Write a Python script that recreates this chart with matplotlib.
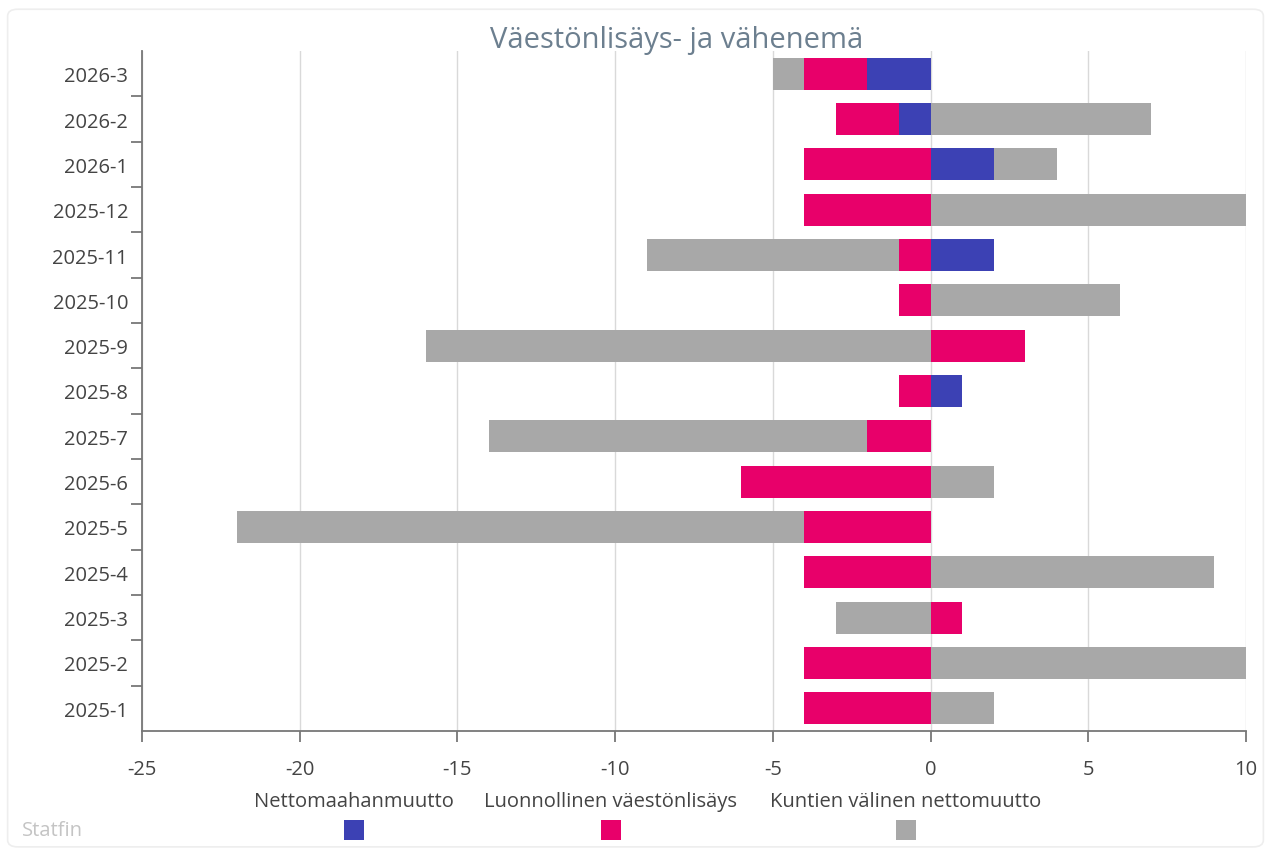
import numpy as np
import matplotlib.pyplot as plt
from matplotlib.patches import FancyBboxPatch, Rectangle

plt.rcParams['font.family'] = ['Open Sans', 'DejaVu Sans']
plt.rcParams['axes.unicode_minus'] = False

# data, top row first as in the picture
months = ['2026-3', '2026-2', '2026-1', '2025-12', '2025-11', '2025-10', '2025-9',
          '2025-8', '2025-7', '2025-6', '2025-5', '2025-4', '2025-3', '2025-2', '2025-1']
netto_maahan = [-2, -1, 2, 0, 2, 0, 0, 1, 0, 0, 0, 0, 0, 0, 0]
luonnollinen = [-2, -2, -4, -4, -1, -1, 3, -1, -2, -6, -4, -4, 1, -4, -4]
kuntien = [-1, 7, 2, 10, -8, 6, -16, 0, -12, 2, -18, 9, -3, 10, 2]

series = [('Nettomaahanmuutto', netto_maahan, '#3c41b4'),
          ('Luonnollinen väestönlisäys', luonnollinen, '#e8006a'),
          ('Kuntien välinen nettomuutto', kuntien, '#a8a8a8')]

fig = plt.figure(figsize=(12.71, 8.53), dpi=100)
card = FancyBboxPatch((0.006, 0.006), 0.988, 0.982, boxstyle='round,pad=0,rounding_size=0.008',
                      transform=fig.transFigure, fc='none', ec='#eeeeee', lw=1.2, zorder=-1)
fig.patches.append(card)
ax = fig.add_axes([0.1117, 0.1419, 0.8686, 0.7971])

# stacked like highcharts: positives and negatives stack separately from zero
y = np.arange(len(months))
pos = np.zeros(len(months))
neg = np.zeros(len(months))
for name, vals, col in series:
    v = np.array(vals, dtype=float)
    left = np.where(v >= 0, pos, neg)
    ax.barh(y, v, left=left, height=0.7, color=col, zorder=3)
    pos = pos + np.where(v > 0, v, 0)
    neg = neg + np.where(v < 0, v, 0)

ax.set_xlim(-25, 10)
ax.set_ylim(len(months) - 0.5, -0.5)
ax.set_xticks(np.arange(-25, 11, 5))
ax.set_yticks(y)
ax.set_yticklabels(months)
ax.set_yticks(np.arange(0.5, len(months) - 1, 1), minor=True)
ax.grid(axis='x', color='#d9d9d9', lw=1, zorder=0)

for s in ['top', 'right']:
    ax.spines[s].set_visible(False)
for s in ['left', 'bottom']:
    ax.spines[s].set_color('#777777')
    ax.spines[s].set_linewidth(1.3)
    ax.spines[s].set_zorder(4)
ax.tick_params(axis='x', colors='#777777', length=8, width=1.3, labelcolor='#444444', labelsize=14.5, pad=12)
ax.tick_params(axis='y', which='major', length=0, labelcolor='#444444', labelsize=14.5, pad=10)
ax.tick_params(axis='y', which='minor', length=8, width=1.3, color='#777777')

fig.text(0.532, 0.953, 'Väestönlisäys- ja vähenemä', ha='center', va='center', fontsize=21, color='#6c7f8f')

# legend laid out like the original: text above, square below
leg_x = [354, 611, 906]
for (name, vals, col), lx in zip(series, leg_x):
    fig.text(lx / 1271, 1 - 802 / 853, name, ha='center', va='center', fontsize=14.5, color='#444444')
    fig.patches.append(Rectangle(((lx - 10) / 1271, 1 - 841 / 853), 20 / 1271, 20 / 853,
                                 transform=fig.transFigure, fc=col, ec='none'))

fig.text(22 / 1271, 1 - 831 / 853, 'Statfin', ha='left', va='center', fontsize=14.5, color='#c4c4c4')

fig.savefig('out.png', dpi=100)
